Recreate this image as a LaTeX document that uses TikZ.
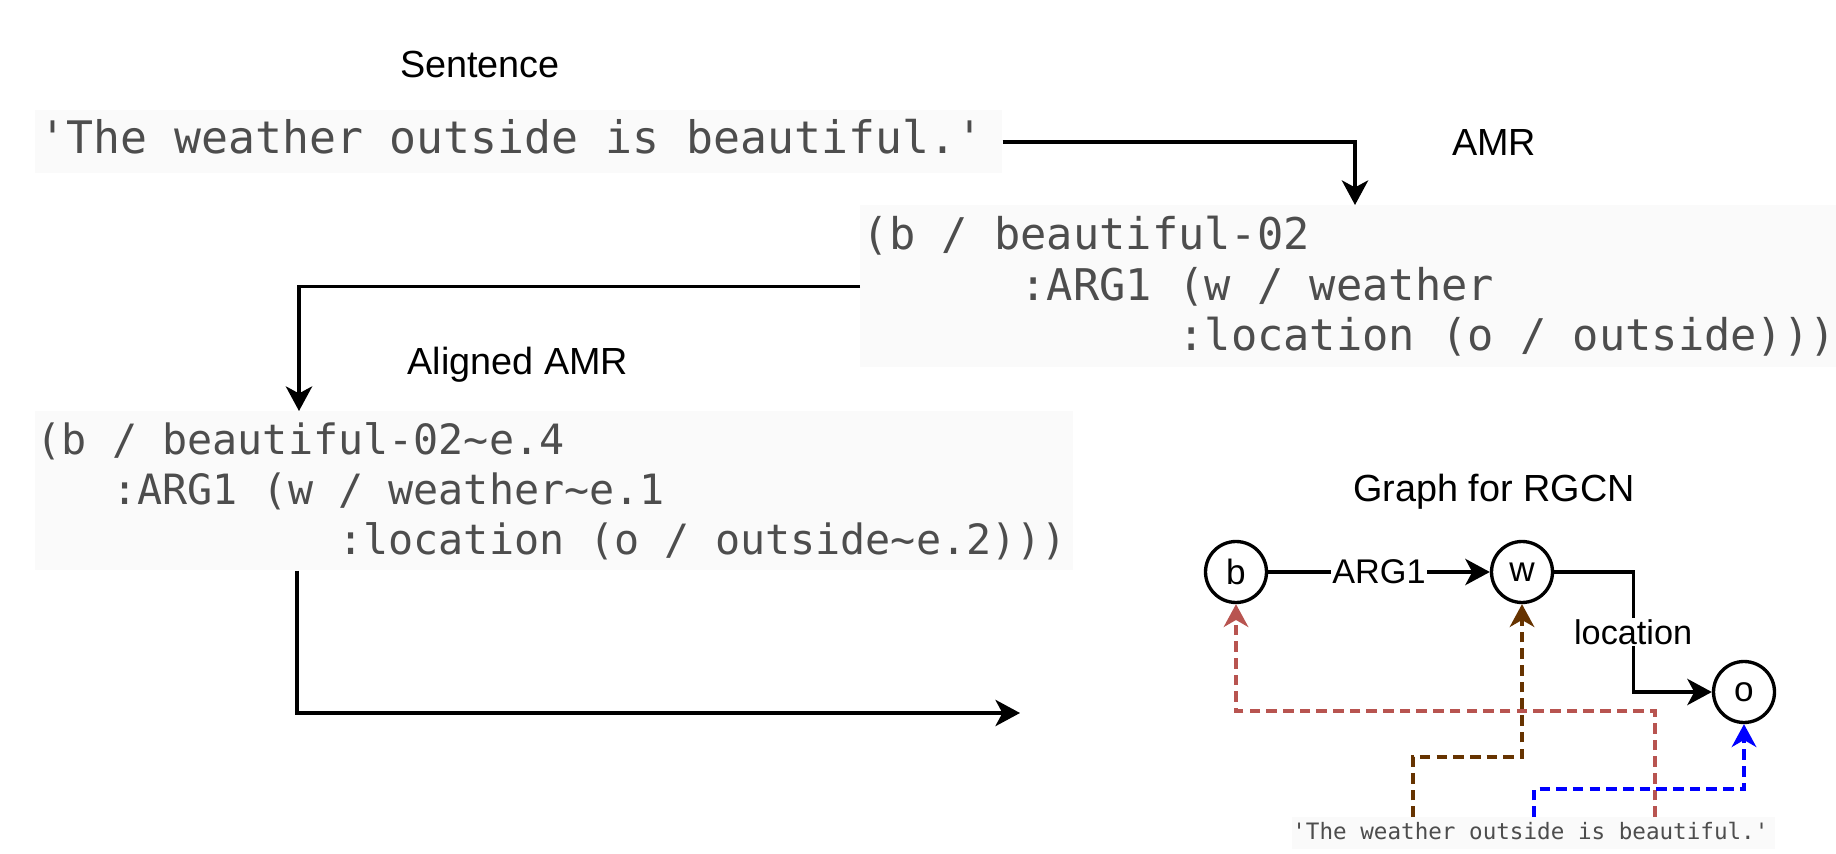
\documentclass[tikz,border=0pt]{standalone}
\usepackage{fontspec}
\setmainfont{Liberation Sans}
\newfontfamily\amrmono{DejaVu Sans Mono}
\usetikzlibrary{arrows.meta,calc}

\definecolor{codebg}{HTML}{FAFAFA}
\definecolor{codefg}{HTML}{4D4D4D}
\definecolor{alignred}{HTML}{B85450}
\definecolor{alignbrown}{HTML}{663300}
\definecolor{alignblue}{HTML}{0000FF}

% one full mono cell, used for the blanks in the code boxes
\newcommand{\cell}{\hphantom{0}}

\begin{document}
\begin{tikzpicture}[
    x=0.02cm, y=-0.02cm,
    heading/.style={font=\fontsize{21.5}{26}\selectfont},
    codebox/.style={rectangle,fill=codebg,text=codefg,anchor=north west,align=left,inner ysep=0pt},
    gnode/.style={circle,draw,line width=1.9pt,minimum size=1.22cm,inner sep=0pt,font=\fontsize{20}{24}\selectfont},
    elabel/.style={fill=white,inner sep=1pt,font=\fontsize{19.5}{23}\selectfont},
    arrow/.style={-{Stealth[length=14pt,width=15pt,inset=4pt]},line width=1.9pt},
    link/.style={-{Stealth[length=13pt,width=14pt,inset=4pt]},line width=1.9pt,dash pattern=on 6pt off 3.5pt}
]

\useasboundingbox (0,0) rectangle (1836,854);
\clip (0,0) rectangle (1836,854);

% Sentence
\node[heading] (sentlabel) at (480,65) {Sentence};
\node[codebox,minimum width=19.34cm,minimum height=1.26cm,text width=19.18cm,inner xsep=0.08cm,
      text height=0.63cm,text depth=0.18cm,font=\amrmono\fontsize{25.5}{30}\selectfont]
      (sent) at (35,110) {\textquotesingle The\cell weather\cell outside\cell is\cell beautiful.\textquotesingle};

% AMR
\node[heading] (amrlabel) at (1494,143) {AMR};
\node[codebox,minimum width=20.8cm,minimum height=3.24cm,text width=20.7cm,inner xsep=0.05cm,
      font=\amrmono\fontsize{24.86}{28.7}\selectfont]
      (amr) at (860,205) {(b\cell/\cell beautiful-02\\
      \hphantom{000000}:ARG1\cell(w\cell/\cell weather\\
      \hphantom{000000000000}:location\cell(o\cell/\cell outside)))};

% Aligned AMR
\node[heading] (alignedlabel) at (518,365) {Aligned AMR};
\node[codebox,minimum width=20.76cm,minimum height=3.18cm,text width=20.7cm,inner xsep=0.03cm,
      font=\amrmono\fontsize{23.75}{28.45}\selectfont]
      (aligned) at (35,411) {(b\cell/\cell beautiful-02\textasciitilde e.4\\
      \hphantom{000}:ARG1\cell(w\cell/\cell weather\textasciitilde e.1\\
      \hphantom{000000000000}:location\cell(o\cell/\cell outside\textasciitilde e.2)))};

% Steps between the boxes
\coordinate (gout) at (1020,713);
\draw[arrow] (sent.east) -| ($(amr.north west)+(495,0)$);
\draw[arrow] (amr.west) -| ($(aligned.north west)+(264,0)$);
\draw[arrow] ($(aligned.south west)+(262,0)$) |- (gout);

% Graph for RGCN
\node[heading] (graphlabel) at (1494,492) {Graph for RGCN};
\node[gnode] (b) at (1236,572) {b};
\node[gnode] (w) at (1522,572) {w};
\node[gnode] (o) at (1744,692) {o};

\draw[arrow] (b) -- node[elabel] {ARG1} (w);
\draw[arrow] (w) -- ($(w.east)+(79,0)$) |- node[elabel,pos=0.25] {location} (o);

% Sentence under the graph, with its alignments
\node[codebox,minimum width=9.66cm,minimum height=0.64cm,text width=9.66cm,inner xsep=0pt,
      text height=0.32cm,text depth=0.09cm,font=\amrmono\fontsize{12.86}{15}\selectfont]
      (sentsmall) at (1292,817) {\textquotesingle The\cell weather\cell outside\cell is\cell beautiful.\textquotesingle};

\draw[link,alignred] ($(sentsmall.north west)+(363,0)$) |- ($(b.south)+(0,107)$) -- (b);
\draw[link,alignbrown] ($(sentsmall.north west)+(121,0)$) |- ($(w.south)+(0,153)$) -- (w);
\draw[link,alignblue] ($(sentsmall.north west)+(242,0)$) |- ($(o.south)+(0,65)$) -- (o);

\end{tikzpicture}
\end{document}
